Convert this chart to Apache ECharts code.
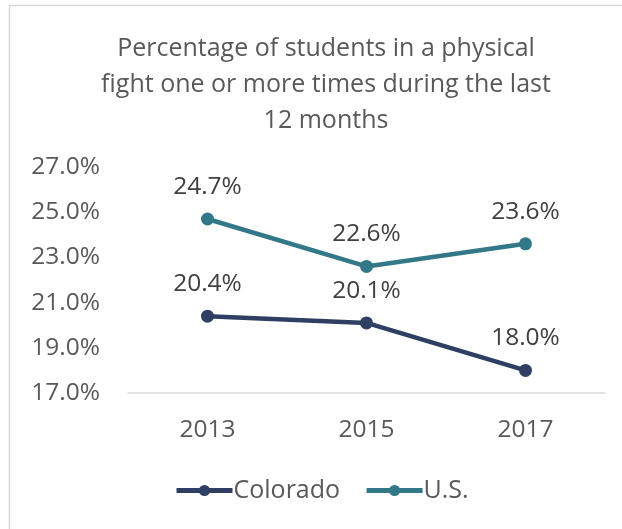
<!DOCTYPE html>
<html>
<head>
<meta charset="utf-8">
<script src="https://cdn.jsdelivr.net/npm/echarts@6/dist/echarts.min.js"></script>
<style>
  html, body { margin: 0; padding: 0; background: #fff; }
  #chart { width: 622px; height: 529px; }
</style>
</head>
<body>
<div id="chart"></div>
<script>
// Survey years and share of students in a physical fight (percent)
const years = ['2013', '2015', '2017'];
const colorado = [20.4, 20.1, 18.0];
const us = [24.7, 22.6, 23.6];
const yTicks = { min: 17, max: 27, step: 2 };

const FONT = '"Open Sans", Lato, sans-serif';
const NAVY = '#2e3f63';
const TEAL = '#327888';
const chart = echarts.init(document.getElementById('chart'), null, { renderer: 'canvas' });

const labelStyle = {
  show: true,
  position: 'top',
  distance: 13,
  fontFamily: FONT,
  fontSize: 24.5,
  color: '#404040',
  formatter: p => p.value.toFixed(1) + '%'
};

chart.setOption({
  backgroundColor: '#ffffff',
  animation: false,
  graphic: [{
    type: 'rect',
    shape: { x: 9.5, y: 5.5, width: 700, height: 700 },
    style: { fill: 'none', stroke: '#d9d9d9', lineWidth: 1.5 },
    silent: true
  }],
  title: {
    text: 'Percentage of students in a physical\nfight one or more times during the last\n12 months',
    left: 321,
    textAlign: 'center',
    top: 26,
    textStyle: {
      fontFamily: FONT,
      fontSize: 25,
      fontWeight: 'normal',
      color: '#595959',
      lineHeight: 36
    }
  },
  legend: {
    bottom: 21,
    left: 169,
    itemWidth: 56,
    itemHeight: 14,
    itemGap: 24,
    textStyle: { fontFamily: FONT, fontSize: 25, color: '#595959', padding: [0, 0, 0, -4] },
    data: [
      { name: 'Colorado', lineStyle: { width: 5, color: NAVY }, itemStyle: { color: NAVY } },
      { name: 'U.S.', lineStyle: { width: 5, color: TEAL }, itemStyle: { color: TEAL } }
    ]
  },
  grid: { left: 128, right: 17, top: 167, bottom: 136, containLabel: false },
  xAxis: {
    type: 'category',
    data: years,
    boundaryGap: true,
    axisLine: { lineStyle: { color: '#d9d9d9', width: 1.5 } },
    axisTick: { show: false },
    axisLabel: { fontFamily: FONT, fontSize: 24.5, color: '#595959', margin: 25 }
  },
  yAxis: {
    type: 'value',
    min: yTicks.min,
    max: yTicks.max,
    interval: yTicks.step,
    axisLine: { show: false },
    axisTick: { show: false },
    splitLine: { show: false },
    axisLabel: {
      fontFamily: FONT, fontSize: 24.5, color: '#595959', margin: 28,
      formatter: v => v.toFixed(1) + '%'
    }
  },
  series: [
    {
      name: 'Colorado',
      type: 'line',
      data: colorado,
      symbol: 'circle',
      symbolSize: 13,
      itemStyle: { color: NAVY },
      lineStyle: { color: NAVY, width: 4.5 },
      label: labelStyle
    },
    {
      name: 'U.S.',
      type: 'line',
      data: us,
      symbol: 'circle',
      symbolSize: 13,
      itemStyle: { color: TEAL },
      lineStyle: { color: TEAL, width: 4.5 },
      label: labelStyle
    }
  ]
});
</script>
</body>
</html>
